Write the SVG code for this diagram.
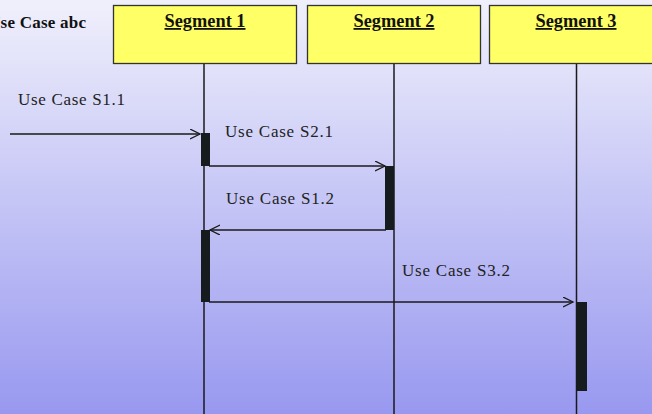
<svg xmlns="http://www.w3.org/2000/svg" width="652" height="414" viewBox="0 0 652 414">
  <defs>
    <linearGradient id="bg" x1="0" y1="0" x2="0" y2="1">
      <stop offset="0" stop-color="#f0f0fc"/>
      <stop offset="1" stop-color="#9898f0"/>
    </linearGradient>
    <marker id="open" markerWidth="12" markerHeight="12" refX="10" refY="5" orient="auto" markerUnits="userSpaceOnUse">
      <path d="M0,0 L10,5 L0,10" fill="none" stroke="#1a1a1a" stroke-width="1.3"/>
    </marker>
    <style>
      .seg { fill: #ffff66; stroke: #333; stroke-width: 1.3; }
      .title { font-family: "Liberation Serif", serif; font-weight: bold; font-size: 18px; text-decoration: underline; fill: #111; }
      .lbl { font-family: "Liberation Serif", serif; font-size: 17px; fill: #222; }
      .life { stroke: #1a1a1a; stroke-width: 1.5; fill: none; }
      .act { fill: #161c1e; }
      .msg { stroke: #1a1a1a; stroke-width: 1.4; fill: none; marker-end: url(#open); }
    </style>
  </defs>

  <rect x="0" y="0" width="652" height="414" fill="url(#bg)"/>

  <!-- heading runs off the left edge -->
  <text x="86" y="28" text-anchor="end" textLength="98" lengthAdjust="spacing" style="font-family:'Liberation Serif',serif;font-weight:bold;font-size:17px;fill:#111">Use Case abc</text>

  <!-- lifelines -->
  <g id="lifelines">
    <line class="life" x1="204" y1="63" x2="204" y2="414"/>
    <line class="life" x1="394" y1="63" x2="394" y2="414"/>
    <line class="life" x1="576.5" y1="63" x2="576.5" y2="414"/>
  </g>

  <g id="segment1">
    <rect class="seg" x="113.5" y="5.5" width="183" height="58"/>
    <text class="title" x="205" y="27" text-anchor="middle" textLength="81" lengthAdjust="spacingAndGlyphs">Segment 1</text>
  </g>
  <g id="segment2">
    <rect class="seg" x="307.5" y="5.5" width="173" height="58"/>
    <text class="title" x="394" y="27" text-anchor="middle" textLength="81" lengthAdjust="spacingAndGlyphs">Segment 2</text>
  </g>
  <g id="segment3">
    <rect class="seg" x="489.5" y="5.5" width="170" height="58"/>
    <text class="title" x="576" y="27" text-anchor="middle" textLength="81" lengthAdjust="spacingAndGlyphs">Segment 3</text>
  </g>

  <!-- activation bars -->
  <g id="activations">
    <rect class="act" x="201" y="133" width="9" height="33"/>
    <rect class="act" x="385" y="166" width="9" height="64"/>
    <rect class="act" x="201" y="230" width="9" height="72"/>
    <rect class="act" x="577" y="302" width="10" height="89"/>
  </g>

  <!-- messages -->
  <g id="connectors">
    <line class="msg" x1="10" y1="134" x2="200" y2="134"/>
    <line class="msg" x1="209" y1="166" x2="385" y2="166"/>
    <line class="msg" x1="386" y1="230" x2="210" y2="230"/>
    <line class="msg" x1="209" y1="302" x2="573" y2="302"/>
  </g>

  <g id="labels">
    <text class="lbl" x="18" y="105" textLength="107" lengthAdjust="spacing">Use Case S1.1</text>
    <text class="lbl" x="225" y="137" textLength="108" lengthAdjust="spacing">Use Case S2.1</text>
    <text class="lbl" x="226" y="204" textLength="108" lengthAdjust="spacing">Use Case S1.2</text>
    <text class="lbl" x="402" y="276" textLength="108" lengthAdjust="spacing">Use Case S3.2</text>
  </g>
</svg>
